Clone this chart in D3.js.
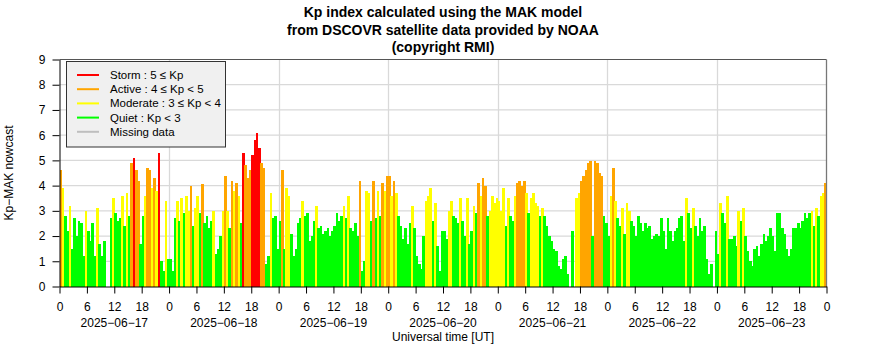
<!DOCTYPE html>
<html><head><meta charset="utf-8">
<script src="https://cdn.jsdelivr.net/npm/d3@7"></script>
<style>
body{margin:0;background:#fff;}
svg text{font-family:"Liberation Sans",Arial,Helvetica,sans-serif;fill:#000;}
</style></head><body>
<svg id="c" width="886" height="360"></svg>
<script>
const titleLines = ["Kp index calculated using the MAK model","from DSCOVR satellite data provided by NOAA","(copyright RMI)"];
const yLabel = "Kp\u2212MAK nowcast";
const xLabel = "Universal time [UT]";
const days = ["2025-06-17","2025-06-18","2025-06-19","2025-06-20","2025-06-21","2025-06-22","2025-06-23"];
const stepMinutes = 30;
// Kp values every 30 minutes, one array per day (null = missing data)
const kp_0617 = [4.6,3.9,2.8,2.2,3.2,1.5,2.7,2.0,2.6,2.5,1.2,3.0,
                 2.2,1.8,2.5,1.2,3.1,1.7,1.2,1.8,null,null,2.7,3.5,
                 2.9,2.6,2.7,3.6,2.4,3.7,2.8,4.9,5.1,4.6,4.2,1.7,
                 2.8,3.6,4.7,4.6,3.9,4.3,3.8,5.3,1.0,0.6,3.4,1.1];
const kp_0618 = [1.1,0.6,2.7,3.4,2.6,3.5,2.9,3.6,3.0,4.0,2.4,3.1,
                 3.6,2.9,4.05,2.5,2.8,2.3,2.6,3.0,1.3,1.5,2.0,3.0,
                 4.4,3.0,2.3,4.2,3.8,4.1,3.6,2.5,5.3,4.8,4.3,4.6,
                 5.2,5.8,6.1,5.5,4.9,4.7,0.9,1.2,3.7,2.7,2.8,1.5];
const kp_0619 = [2.6,4.6,1.5,3.9,3.6,2.1,1.2,1.5,2.5,2.7,3.4,2.8,
                 2.9,1.8,2.0,2.6,3.2,2.3,2.4,2.1,2.2,2.3,2.0,2.2,
                 2.4,2.9,2.6,2.8,3.2,2.7,3.6,2.3,2.2,2.5,2.0,4.2,
                 0.6,1.0,3.8,3.7,2.6,4.2,2.7,3.8,2.8,4.1,3.8,4.4];
const kp_0620 = [4.4,3.6,4.2,3.7,2.8,2.4,1.9,2.3,1.7,2.5,3.2,2.3,
                 1.2,0.9,0.7,2.0,3.4,3.6,3.9,2.6,3.3,1.6,0.6,2.2,
                 2.2,1.9,3.0,3.4,2.8,2.7,2.5,3.5,2.6,2.0,3.5,1.7,
                 2.2,3.2,2.9,4.1,3.6,4.3,4.0,2.8,3.0,3.6,3.3,3.5];
const kp_0621 = [3.4,3.0,3.9,2.4,3.5,2.8,2.6,3.6,4.1,4.2,4.0,4.2,
                 3.7,2.9,3.5,3.7,3.3,3.2,2.8,3.1,2.8,2.4,2.0,1.8,
                 1.5,1.4,0.8,0.7,1.1,1.2,0.5,null,2.2,null,3.5,3.7,
                 4.2,4.4,4.6,4.9,4.97,2.0,4.97,4.9,4.5,4.4,2.8,2.5];
const kp_0622 = [2.0,3.6,4.7,3.4,2.7,2.4,3.1,2.1,3.3,3.0,2.6,2.4,
                 2.0,2.8,2.5,2.2,2.5,2.3,2.4,1.9,2.0,2.1,2.0,2.7,
                 2.2,1.5,2.7,2.2,1.8,2.2,2.3,2.7,2.8,1.8,3.5,2.9,
                 2.3,3.1,2.4,2.0,2.7,2.2,2.4,1.1,0.5,0.9,null,2.2];
const kp_0623 = [1.3,3.3,2.9,2.5,3.6,1.9,1.9,2.0,1.6,3.0,2.6,3.1,
                 2.0,1.4,1.0,0.8,1.5,1.6,1.2,1.7,2.1,1.8,2.0,2.3,
                 2.0,1.4,2.9,2.9,2.3,2.1,1.5,1.2,1.5,2.3,2.3,2.5,
                 2.3,2.6,2.9,2.7,2.9,3.0,2.4,3.1,2.8,3.6,3.7,4.1];
const dayArrays = [kp_0617,kp_0618,kp_0619,kp_0620,kp_0621,kp_0622,kp_0623];
const yTicks = [0,1,2,3,4,5,6,7,8,9];
const tickHourStep = 6;
const thresholds = [3,4,5];
const legendLabels = ["Storm : 5 \u2264 Kp","Active : 4 \u2264 Kp < 5","Moderate : 3 \u2264 Kp < 4","Quiet : Kp < 3","Missing data"];

const levelColors = ["#00ff00","#ffff00","#ffa500","#ff0000"];
const legendColors = ["#ff0000","#ffa500","#ffff00","#00ff00","#bebebe"];

const data = [];
days.forEach((d,i)=>{
  const t0 = Date.parse(d+"T00:00:00Z");
  dayArrays[i].forEach((v,j)=>data.push({t:new Date(t0+j*stepMinutes*60000), v}));
});
const tStart = new Date(Date.parse(days[0]+"T00:00:00Z"));
const tEnd = d3.utcDay.offset(new Date(Date.parse(days[days.length-1]+"T00:00:00Z")),1);

const svg = d3.select("#c");
const x = d3.scaleUtc().domain([tStart,tEnd]).range([59.5,826.5]);
const y = d3.scaleLinear().domain([0,9]).range([286.5,59.5]);
const color = d3.scaleThreshold().domain(thresholds).range(levelColors);

// grid
svg.append("g").selectAll("line").data(yTicks.slice(1,-1)).join("line")
  .attr("x1",x.range()[0]).attr("x2",x.range()[1])
  .attr("y1",d=>y(d)).attr("y2",d=>y(d))
  .attr("stroke","#d9d9d9").attr("stroke-width",1.3);
svg.append("g").selectAll("line").data(d3.utcDay.range(d3.utcDay.offset(tStart,1),tEnd)).join("line")
  .attr("x1",d=>Math.round(x(d))+0.5).attr("x2",d=>Math.round(x(d))+0.5)
  .attr("y1",y(0)).attr("y2",y(9))
  .attr("stroke","#d9d9d9").attr("stroke-width",1.3);

// bars
const stepMs = stepMinutes*60000;
svg.append("g").attr("shape-rendering","crispEdges").selectAll("rect")
  .data(data.filter(d=>d.v!=null)).join("rect")
  .attr("x",d=>x(d.t))
  .attr("width",d=>x(new Date(+d.t+stepMs))-x(d.t)+0.4)
  .attr("y",d=>y(d.v))
  .attr("height",d=>y(0)-y(d.v))
  .attr("fill",d=>color(d.v));

// borders
svg.append("line").attr("x1",x.range()[0]).attr("x2",x.range()[1]).attr("y1",y(9)).attr("y2",y(9)).attr("stroke","#555");
svg.append("line").attr("x1",x.range()[1]).attr("x2",x.range()[1]).attr("y1",y(9)).attr("y2",y(0)).attr("stroke","#777").attr("stroke-width",1.3);

// x axis
const xTicks = d3.utcHour.every(tickHourStep).range(tStart,d3.utcHour.offset(tEnd,1));
const gx = svg.append("g").attr("transform",`translate(0,${y(0)})`)
  .call(d3.axisBottom(x).tickValues(xTicks).tickFormat(d=>d.getUTCHours()).tickSize(7).tickSizeOuter(0).tickPadding(9));
gx.selectAll("text").attr("font-size",12).attr("font-family","Liberation Sans, Arial, sans-serif");
gx.select(".domain").attr("stroke","#000");
svg.append("g").selectAll("text").data(days).join("text")
  .attr("x",d=>x(d3.utcHour.offset(new Date(Date.parse(d+"T00:00:00Z")),12)))
  .attr("y",327).attr("text-anchor","middle").attr("font-size",12)
  .text(d=>d.replace(/-/g,"\u2212"));
svg.append("text").attr("x",(x.range()[0]+x.range()[1])/2).attr("y",341)
  .attr("text-anchor","middle").attr("font-size",12).text(xLabel);

// y axis
const gy = svg.append("g").attr("transform",`translate(${x.range()[0]},0)`)
  .call(d3.axisLeft(y).tickValues(yTicks).tickSize(7).tickSizeOuter(0).tickPadding(7));
gy.selectAll("text").attr("font-size",12).attr("font-family","Liberation Sans, Arial, sans-serif");
gy.select(".domain").attr("stroke","#000");
svg.append("text").attr("transform",`translate(13,${(y(0)+y(9))/2}) rotate(-90)`)
  .attr("text-anchor","middle").attr("font-size",12).text(yLabel);

// title
svg.append("g").selectAll("text").data(titleLines).join("text")
  .attr("x",443).attr("y",(d,i)=>17+i*17.5).attr("text-anchor","middle")
  .attr("font-size",14).attr("font-weight","bold").text(d=>d);

// legend
const lg = svg.append("g");
lg.append("rect").attr("x",66.5).attr("y",61.5).attr("width",159).attr("height",85.5)
  .attr("fill","#f0f0f0").attr("stroke","#333");
const rows = lg.selectAll("g").data(legendLabels).join("g")
  .attr("transform",(d,i)=>`translate(0,${75+i*14.2})`);
rows.append("line").attr("x1",77).attr("x2",99).attr("stroke",(d,i)=>legendColors[i]).attr("stroke-width",2);
rows.append("text").attr("x",110).attr("y",4).attr("font-size",11.5).text(d=>d);
</script>
</body></html>
